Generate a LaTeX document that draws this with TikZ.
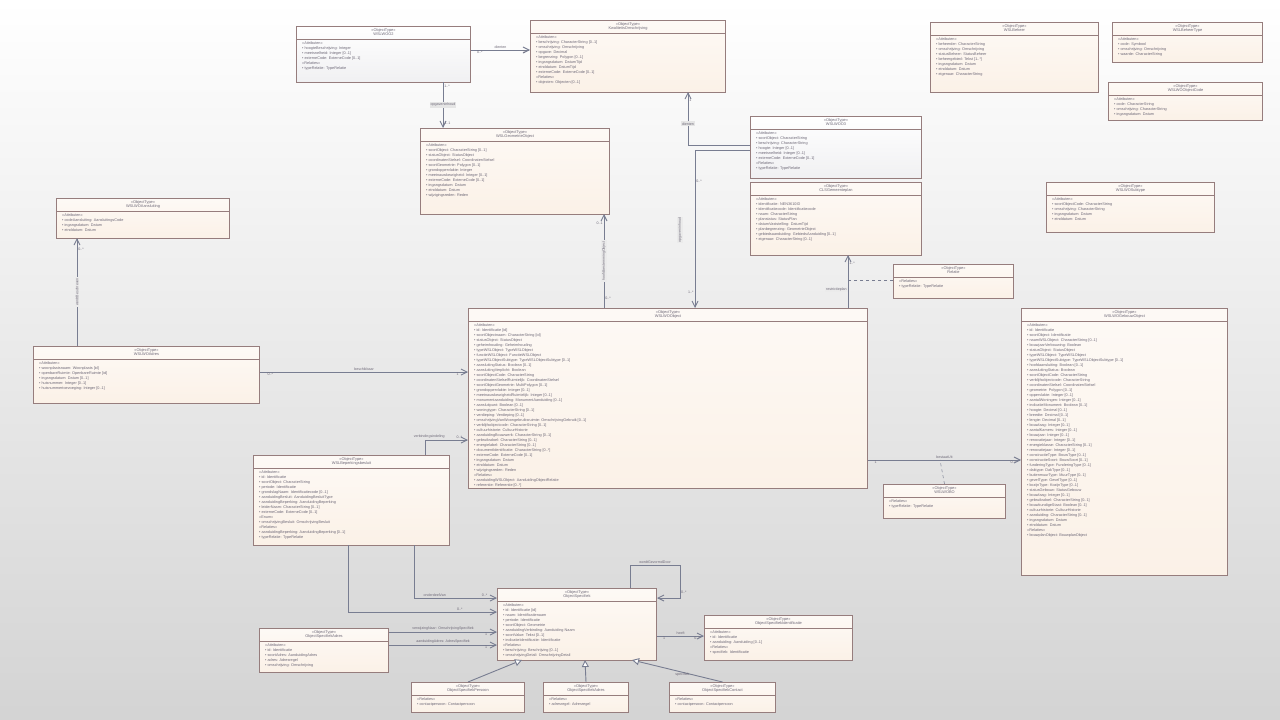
\documentclass[tikz,border=0pt]{standalone}
\usepackage{fontspec}
\setmainfont{Liberation Sans}
\usetikzlibrary{arrows.meta}
\definecolor{bdr}{RGB}{150,125,125}
\definecolor{fillA}{RGB}{251,241,231}
\definecolor{fillB}{RGB}{240,240,242}
\definecolor{txt}{RGB}{110,105,120}
\definecolor{ln}{RGB}{120,125,145}
\tikzset{
 clsbox/.style={draw=bdr,line width=1pt,top color=white!60!fillA,bottom color=fillA,inner sep=0pt},
 graybox/.style={draw=bdr,line width=1pt,top color=white,bottom color=fillB,inner sep=0pt},
 body/.style={anchor=north west,align=left,inner sep=0pt,text=txt,font=\fontsize{3.8}{5.0}\selectfont},
 ttl/.style={anchor=north,align=center,inner sep=0pt,text=txt,font=\fontsize{3.9}{4.7}\selectfont},
 lbl/.style={text=txt,font=\fontsize{3.6}{4.4}\selectfont,inner sep=1pt},
 conn/.style={draw=ln,line width=0.9pt},
 arr/.style={conn,-{Straight Barb[length=6pt,width=6pt]}},
 gen/.style={conn,-{Triangle[open,length=7pt,width=7pt,fill=white]}},
 note/.style={conn,dashed,line width=0.5pt}
}
% #1 name #2 style #3 x #4 y #5 w #6 h #7 title #8 body
\newcommand\umlcls[8]{%
 \node[#2,minimum width=#5pt,minimum height=#6pt,anchor=north west] (#1) at (#3,#4) {};
 \draw[bdr,line width=0.6pt] ([yshift=-13pt]#1.north west) -- ([yshift=-13pt]#1.north east);
 \node[ttl] at ([yshift=-2pt]#1.north) {«ObjectType»\\ #7};
 \node[body] at ([xshift=6pt,yshift=-16pt]#1.north west) {#8};
}
\begin{document}
\begin{tikzpicture}[x=1pt,y=-1pt]
\shade[top color=white,bottom color=black!17] (0,0) rectangle (1280,720);
\useasboundingbox (0,0) rectangle (1280,720);

\umlcls{wsl2}{graybox}{296}{26}{174}{56}{WSLWOO2}{«Attributen»\\ • hoogteBeschrijving: Integer\\ • meetsnelheid: Integer [0..1]\\ • externeCode: ExterneCode [0..1]\\ «Relaties»\\ • typeRelatie: TypeRelatie}
\umlcls{kwal}{clsbox}{530}{20}{195}{72}{KwaliteitsOmschrijving}{«Attributen»\\ • beschrijving: CharacterString [0..1]\\ • omschrijving: Omschrijving\\ • opgave: Decimal\\ • begrenzing: Polygon [0..1]\\ • ingangsdatum: DatumTijd\\ • einddatum: DatumTijd\\ • externeCode: ExterneCode [0..1]\\ «Relaties»\\ • objecten: Objecten [0..1]}
\umlcls{tr1}{clsbox}{930}{22}{168}{70}{WSLBeheer}{«Attributen»\\ • beheerder: CharacterString\\ • omschrijving: Omschrijving\\ • statusBeheer: StatusBeheer\\ • beheergebied: Tekst [1..*]\\ • ingangsdatum: Datum\\ • einddatum: Datum\\ • eigenaar: CharacterString}
\umlcls{tr2}{clsbox}{1112}{22}{150}{40}{WSLBeheerType}{«Attributen»\\ • code: Symbool\\ • omschrijving: Omschrijving\\ • waarde: CharacterString}
\umlcls{tr3}{clsbox}{1108}{82}{154}{38}{WSLWOObjectCode}{«Attributen»\\ • code: CharacterString\\ • omschrijving: CharacterString\\ • ingangsdatum: Datum}
\umlcls{mid}{clsbox}{420}{128}{189}{86}{WSLGeometrieObject}{«Attributen»\\ • soortObject: CharacterString [0..1]\\ • statusObject: StatusObject\\ • coordinatenStelsel: CoordinatenStelsel\\ • soortGeometrie: Polygon [0..1]\\ • grondoppervlakte: Integer\\ • meetnauwkeurigheid: Integer [0..1]\\ • externeCode: ExterneCode [0..1]\\ • ingangsdatum: Datum\\ • einddatum: Datum\\ • wijzigingsreden: Reden}
\umlcls{b7}{graybox}{750}{116}{171}{62}{WSLWOO3}{«Attributen»\\ • soortObject: CharacterString\\ • beschrijving: CharacterString\\ • hoogte: Integer [0..1]\\ • meetsnelheid: Integer [0..1]\\ • externeCode: ExterneCode [0..1]\\ «Relaties»\\ • typeRelatie: TypeRelatie}
\umlcls{b8}{clsbox}{750}{182}{171}{73}{CLSGemeenteplan}{«Attributen»\\ • identificatie: NEN3610ID\\ • identificatiecode: Identificatiecode\\ • naam: CharacterString\\ • planstatus: StatusPlan\\ • datumVaststelling: DatumTijd\\ • planbegrenzing: GeometrieObject\\ • gebiedsaanduiding: GebiedsAanduiding [0..1]\\ • eigenaar: CharacterString [0..1]}
\umlcls{b9}{clsbox}{1046}{182}{168}{50}{WSLWOSubtype}{«Attributen»\\ • soortObjectCode: CharacterString\\ • omschrijving: CharacterString\\ • ingangsdatum: Datum\\ • einddatum: Datum}
\umlcls{b10}{clsbox}{56}{198}{173}{40}{WSLWOAansluiting}{«Attributen»\\ • codeAansluiting: AansluitingsCode\\ • ingangsdatum: Datum\\ • einddatum: Datum}
\umlcls{b11}{clsbox}{893}{264}{120}{34}{Relatie}{«Relaties»\\ • typeRelatie: TypeRelatie}
\umlcls{main}{clsbox}{468}{308}{399}{180}{WSLWOObject}{«Attributen»\\ • id: Identificatie [id]\\ • soortObjectnaam: CharacterString [id]\\ • statusObject: StatusObject\\ • geheimhouding: Geheimhouding\\ • typeWSLObject: TypeWSLObject\\ • functieWSLObject: FunctieWSLObject\\ • typeWSLObjectSubtype: TypeWSLObjectSubtype [0..1]\\ • aansluitingStatus: Boolean [0..1]\\ • aansluitingVerplicht: Boolean\\ • soortObjectCode: CharacterString\\ • coordinatenStelselRuimtelijk: CoordinatenStelsel\\ • soortObjectGeometrie: MultiPolygon [0..1]\\ • grondoppervlakte: Integer [0..1]\\ • meetnauwkeurigheidRuimtelijk: Integer [0..1]\\ • monumentaanduiding: MonumentAanduiding [0..1]\\ • aansluitpunt: Boolean [0..1]\\ • woningtype: CharacterString [0..1]\\ • verdieping: Verdieping [0..1]\\ • omschrijvingVanWoongebruiksruimte: OmschrijvingGebruik [0..1]\\ • verblijfsobjectcode: CharacterString [0..1]\\ • cultuurhistorie: CultuurHistorie\\ • aanduidingBouwwerk: CharacterString [0..1]\\ • gebruiksdoel: CharacterString [0..1]\\ • energielabel: CharacterString [0..1]\\ • documentIdentificatie: CharacterString [0..*]\\ • externeCode: ExterneCode [0..1]\\ • ingangsdatum: Datum\\ • einddatum: Datum\\ • wijzigingsreden: Reden\\ «Relaties»\\ • aanduidingWSLObject: AanduidingObjectRelatie\\ • referentie: Referentie [0..*]}
\umlcls{right}{clsbox}{1021}{308}{206}{267}{WSLWOGebouwObject}{«Attributen»\\ • id: Identificatie\\ • soortObject: Identificatie\\ • naamWSLObject: CharacterString [0..1]\\ • bouwjaarVerbouwing: Boolean\\ • statusObject: StatusObject\\ • typeWSLObject: TypeWSLObject\\ • typeWSLObjectSubtype: TypeWSLObjectSubtype [0..1]\\ • hoofdaansluiting: Boolean [0..1]\\ • aansluitingStatus: Boolean\\ • soortObjectCode: CharacterString\\ • verblijfsobjectcode: CharacterString\\ • coordinatenStelsel: CoordinatenStelsel\\ • geometrie: Polygon [0..1]\\ • oppervlakte: Integer [0..1]\\ • aantalWoningen: Integer [0..1]\\ • indicatieMonument: Boolean [0..1]\\ • hoogte: Decimal [0..1]\\ • breedte: Decimal [0..1]\\ • lengte: Decimal [0..1]\\ • bouwlaag: Integer [0..1]\\ • aantalKamers: Integer [0..1]\\ • bouwjaar: Integer [0..1]\\ • renovatiejaar: Integer [0..1]\\ • energieklasse: CharacterString [0..1]\\ • renovatiejaar: Integer [0..1]\\ • constructieType: BouwType [0..1]\\ • constructieSoort: BouwSoort [0..1]\\ • funderingType: FunderingType [0..1]\\ • daktype: DakType [0..1]\\ • buitenmuurType: MuurType [0..1]\\ • gevelType: GevelType [0..1]\\ • kozijnType: KozijnType [0..1]\\ • statusGebouw: StatusGebouw\\ • bouwlaag: Integer [0..1]\\ • gebruiksdoel: CharacterString [0..1]\\ • bouwkundigeStaat: Boolean [0..1]\\ • cultuurhistorie: CultuurHistorie\\ • aanduiding: CharacterString [0..1]\\ • ingangsdatum: Datum\\ • einddatum: Datum\\ «Relaties»\\ • bouwplanObject: BouwplanObject}
\umlcls{b14}{clsbox}{33}{346}{226}{57}{WSLWOAdres}{«Attributen»\\ • woonplaatsnaam: Woonplaats [id]\\ • openbareRuimte: OpenbareRuimte [id]\\ • ingangsdatum: Datum [0..1]\\ • huisnummer: Integer [0..1]\\ • huisnummertoevoeging: Integer [0..1]}
\umlcls{b15}{clsbox}{253}{455}{196}{90}{WSLBeperkingsbesluit}{«Attributen»\\ • id: Identificatie\\ • soortObject: CharacterString\\ • periode: Identificatie\\ • grondslagNaam: Identificatiecode [0..1]\\ • aanduidingBesluit: AanduidingBesluitType\\ • aanduidingBeperking: AanduidingBeperking\\ • leiderNaam: CharacterString [0..1]\\ • externeCode: ExterneCode [0..1]\\ «Enum»\\ • omschrijvingBesluit: OmschrijvingBesluit\\ «Relaties»\\ • aanduidingBeperking: AanduidingBeperking [0..1]\\ • typeRelatie: TypeRelatie}
\umlcls{b16}{clsbox}{883}{484}{122}{34}{WSLWOBO}{«Relaties»\\ • typeRelatie: TypeRelatie}
\umlcls{os}{clsbox}{497}{588}{159}{72}{ObjectSpecifiek}{«Attributen»\\ • id: Identificatie [id]\\ • naam: Identificatienaam\\ • periode: Identificatie\\ • soortObject: Geometrie\\ • aanduidingVerbinding: Aanduiding Naam\\ • soortValue: Tekst [0..1]\\ • indicatieIdentificatie: Identificatie\\ «Relaties»\\ • beschrijving: Beschrijving [0..1]\\ • omschrijvingDetail: OmschrijvingDetail}
\umlcls{b18}{clsbox}{259}{628}{129}{44}{ObjectSpecifiekAdres}{«Attributen»\\ • id: Identificatie\\ • soortAdres: AanduidingAdres\\ • adres: Adresregel\\ • omschrijving: Omschrijving}
\umlcls{b19}{clsbox}{704}{615}{148}{45}{ObjectSpecifiekIdentificatie}{«Attributen»\\ • id: Identificatie\\ • aanduiding: Aanduiding [0..1]\\ «Relaties»\\ • specifiek: Identificatie}
\umlcls{s1}{clsbox}{411}{682}{113}{30}{ObjectSpecifiekPersoon}{«Relaties»\\ • contactpersoon: Contactpersoon}
\umlcls{s2}{clsbox}{543}{682}{85}{30}{ObjectSpecifiekAdres}{«Relaties»\\ • adresregel: Adresregel}
\umlcls{s3}{clsbox}{669}{682}{106}{30}{ObjectSpecifiekContact}{«Relaties»\\ • contactpersoon: Contactpersoon}

% connectors
\draw[arr] (wsl2.east|-0,50) -- (kwal.west|-0,50) node[lbl,pos=0.5,above]{dienten} node[lbl,pos=0.15,below]{0..*} node[lbl,pos=0.9,below]{1};
\draw[arr] (443,82) -- (443,128) node[lbl,pos=0.5,fill=white!90!black]{opgaveninhoud} node[lbl,pos=0.1,right]{1..*} node[lbl,pos=0.9,right]{1..1};
\coordinate (c7a) at (688,145);
\draw[arr] (b7.west|-c7a) -- (c7a) -- (688,92) node[lbl,pos=0.4,fill=white!90!black]{dienten} node[lbl,pos=0.85,right]{1};
\coordinate (c7b) at (695,150);
\draw[arr] (b7.west|-c7b) -- (c7b) -- (695,308) node[lbl,pos=0.2,right]{0..*} node[lbl,pos=0.9,left]{1..*};
\node[lbl,rotate=90,fill=white!92!black] at (680,230) {opgaveninhoud};
\draw[arr] (604,308) -- (604,214) node[lbl,pos=0.5,rotate=90,fill=white!92!black]{hoofdbestemmingObject} node[lbl,pos=0.1,right]{0..*} node[lbl,pos=0.9,left]{0..1};
\draw[arr] (848,308) -- (848,255) node[lbl,pos=0.35,left,fill=white!92!black]{restrictieplan} node[lbl,pos=0.85,right]{1..*};
\draw[note] (b11.west|-0,280) -- (848,280);
\draw[arr] (77,346) -- (77,238) node[lbl,pos=0.5,rotate=90,fill=white!92!black]{wordtBeschreven} node[lbl,pos=0.9,right]{0..*};
\draw[arr] (b14.east|-0,372) -- (main.west|-0,372) node[lbl,pos=0.5,above]{beschikbaar} node[lbl,pos=0.05,below]{0..*} node[lbl,pos=0.95,below]{1};
\draw[arr] (main.east|-0,460) -- (right.west|-0,460) node[lbl,pos=0.5,above]{bestaatUit} node[lbl,pos=0.05,below]{1} node[lbl,pos=0.95,below]{0..*};
\draw[note] (b16.north) -- (940,460);
\draw[arr] (425,455) -- (425,440) -- (main.west|-0,440) node[lbl,pos=0.1,above]{verbindingsindeling} node[lbl,pos=0.8,above]{0..*};
\draw[arr] (348,545) -- (348,612) -- (os.west|-0,612) node[lbl,pos=0.75,above]{0..*};
\draw[arr] (414,545) -- (414,598) -- (os.west|-0,598) node[lbl,pos=0.25,above]{onderdeelVan} node[lbl,pos=0.85,above]{0..*};
\coordinate (lpA) at (630,565);
\coordinate (lpB) at (680,565);
\draw[arr] (630,588) -- (lpA) -- (lpB) -- (680,598) -- (os.east|-0,598);
\node[lbl,above] at (655,565) {wordtGevormdDoor};
\node[lbl,right] at (680,592) {0..*};
\draw[arr] (b18.east|-0,632) -- (os.west|-0,632) node[lbl,pos=0.5,above]{verwijzingNaar: OmschrijvingSpecifiek} node[lbl,pos=0.9,below]{1};
\draw[arr] (b18.east|-0,645) -- (os.west|-0,645) node[lbl,pos=0.5,above]{aanduidingAdres: AdresSpecifiek} node[lbl,pos=0.9,below]{1};
\draw[arr] (os.east|-0,636) -- (b19.west|-0,636) node[lbl,pos=0.5,above]{heeft} node[lbl,pos=0.15,below]{1} node[lbl,pos=0.85,below]{0..*};
\draw[gen] (s1.north) -- (522,660);
\draw[gen] (s2.north) -- (585,660);
\draw[gen] (s3.north) -- (632,660) node[lbl,pos=0.35,left]{specifiek};
\end{tikzpicture}
\end{document}
